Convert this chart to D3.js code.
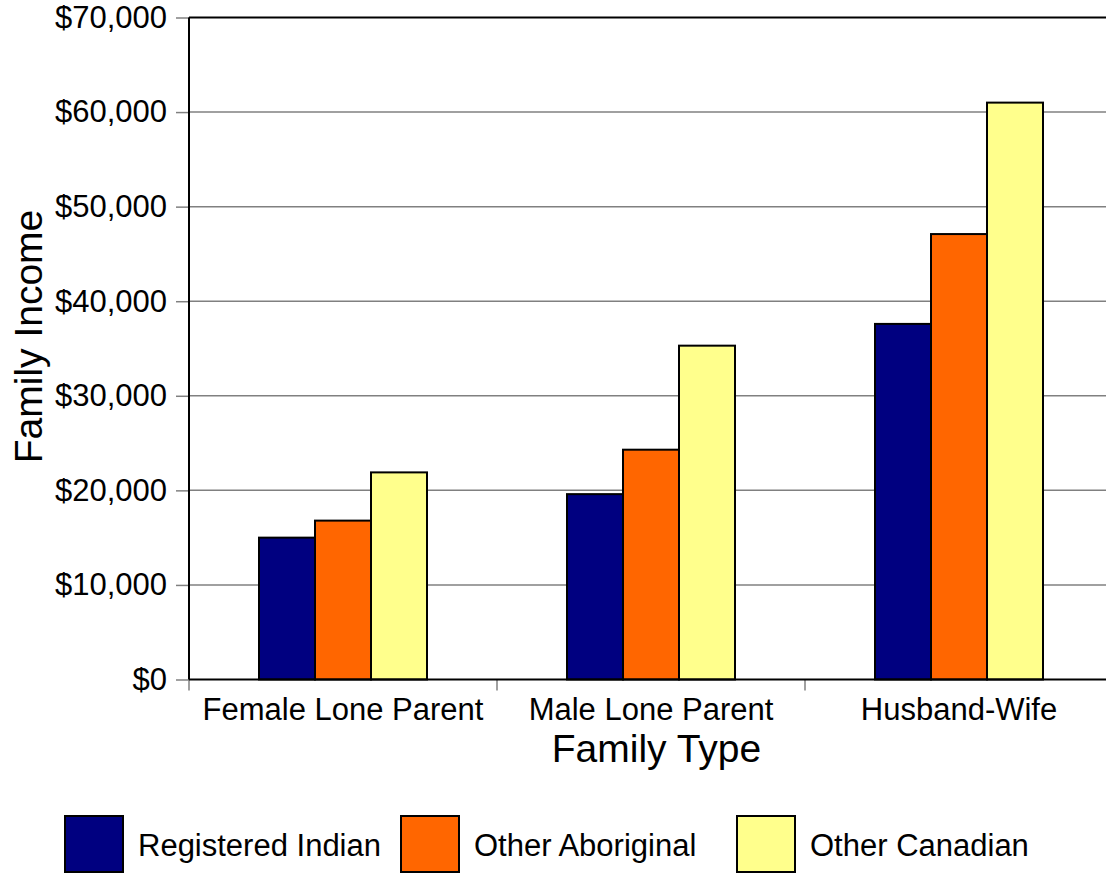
<!DOCTYPE html>
<html>
<head>
<meta charset="utf-8">
<script src="https://cdn.jsdelivr.net/npm/d3@7"></script>
<style>
  body { margin: 0; background: #fff; }
  text { font-family: "Liberation Sans", Arial, sans-serif; fill: #000; }
</style>
</head>
<body>
<svg id="chart"></svg>
<script>
let familyTypes = ["Female Lone Parent", "Male Lone Parent", "Husband-Wife"]
let groups = ["Registered Indian", "Other Aboriginal", "Other Canadian"]
let registeredIndian = [15000, 19600, 37600]
let otherAboriginal = [16800, 24300, 47100]
let otherCanadian = [21900, 35300, 61000]
let yTicks = [0, 10000, 20000, 30000, 40000, 50000, 60000, 70000]
let colors = ["#000080", "#ff6600", "#ffff8c"]

let series = [registeredIndian, otherAboriginal, otherCanadian]

let margin = {
  top: 17.5,
  left: 189
}

let width = 924
let height = 662

let svg = d3.select("#chart")
  .attr("width", 1106)
  .attr("height", 874)

let chart = svg.append("g")
  .attr("transform", "translate(" + margin.left + ", " + margin.top + ")")

let x = d3.scaleBand()
  .domain(familyTypes)
  .range([0, width])

let xInner = d3.scaleBand()
  .domain(groups)
  .range([70, x.bandwidth() - 70])

let y = d3.scaleLinear()
  .domain([0, 70000])
  .range([height, 0])

// gridlines
chart.append("g")
  .selectAll("line")
  .data(yTicks.slice(1))
  .enter()
  .append("line")
  .attr("x1", 0)
  .attr("x2", width)
  .attr("y1", d => y(d))
  .attr("y2", d => y(d))
  .attr("stroke", d => d === 70000 ? "#000" : "#808080")
  .attr("stroke-width", d => d === 70000 ? 2 : 1.5)

// y axis
let yAxis = d3.axisLeft(y)
  .tickValues(yTicks)
  .tickSize(13)
  .tickPadding(9)
  .tickFormat(d => "$" + d3.format(",")(d))

let yG = chart.append("g")
  .attr("id", "y-axis")
  .call(yAxis)
yG.select(".domain").remove()
yG.selectAll(".tick line").attr("stroke", "#808080").attr("stroke-width", 1.5)
yG.selectAll(".tick text").attr("fill", "#000")
  .style("font-size", "31px")
  .style("font-family", "'Liberation Sans', Arial, sans-serif")

// bars
let bar = chart.selectAll(".group")
  .data(familyTypes)
  .enter()
  .append("g")
  .attr("class", "group")
  .attr("transform", d => "translate(" + x(d) + ", 0)")

bar.selectAll("rect")
  .data((d, i) => groups.map((g, j) => ({ group: g, value: series[j][i], color: colors[j] })))
  .enter()
  .append("rect")
  .attr("x", d => xInner(d.group))
  .attr("y", d => y(d.value))
  .attr("width", xInner.bandwidth())
  .attr("height", d => height - y(d.value))
  .attr("fill", d => d.color)
  .attr("stroke", "#000")
  .attr("stroke-width", 2)

// x axis
let xAxis = d3.axisBottom(x)
  .tickSize(0)
  .tickPadding(18)

let xG = chart.append("g")
  .attr("id", "x-axis")
  .attr("transform", "translate(0," + height + ")")
  .call(xAxis)
xG.select(".domain").remove()
xG.selectAll(".tick text").attr("fill", "#000")
  .style("font-size", "31px")
  .style("font-family", "'Liberation Sans', Arial, sans-serif")

// category separators
chart.append("g")
  .selectAll("line")
  .data([0, 1, 2])
  .enter()
  .append("line")
  .attr("x1", d => d * x.bandwidth())
  .attr("x2", d => d * x.bandwidth())
  .attr("y1", height)
  .attr("y2", height + 11)
  .attr("stroke", "#808080")
  .attr("stroke-width", 1.5)

// axis lines
chart.append("line")
  .attr("x1", 0).attr("x2", 0)
  .attr("y1", 0).attr("y2", height)
  .attr("stroke", "#000")
  .attr("stroke-width", 2)

chart.append("line")
  .attr("x1", 0).attr("x2", width)
  .attr("y1", height).attr("y2", height)
  .attr("stroke", "#000")
  .attr("stroke-width", 2)

// axis titles
svg.append("text")
  .attr("transform", "translate(42, 336.5) rotate(-90)")
  .attr("text-anchor", "middle")
  .style("font-size", "39px")
  .text("Family Income")

svg.append("text")
  .attr("x", 656.5)
  .attr("y", 762)
  .attr("text-anchor", "middle")
  .style("font-size", "39px")
  .text("Family Type")

// legend
let legendX = [65, 401, 737]
let legend = svg.selectAll(".legend")
  .data(groups)
  .enter()
  .append("g")
  .attr("class", "legend")
  .attr("transform", (d, i) => "translate(" + legendX[i] + ", 816)")

legend.append("rect")
  .attr("width", 58)
  .attr("height", 56)
  .attr("fill", (d, i) => colors[i])
  .attr("stroke", "#000")
  .attr("stroke-width", 2)

legend.append("text")
  .attr("x", 73)
  .attr("y", 40)
  .style("font-size", "31px")
  .text(d => d)
</script>
</body>
</html>
